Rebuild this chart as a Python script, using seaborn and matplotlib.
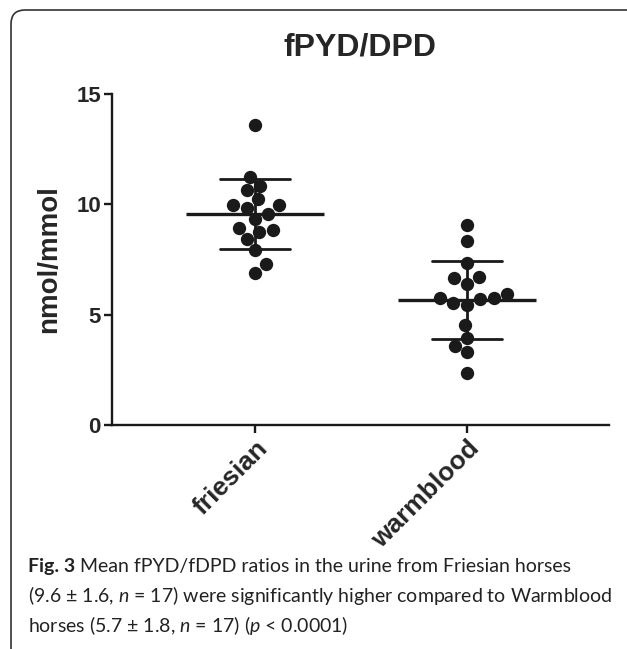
import numpy as np
import pandas as pd
import matplotlib
matplotlib.use("Agg")
import matplotlib.pyplot as plt
from matplotlib.patches import FancyBboxPatch
from matplotlib.transforms import IdentityTransform
import seaborn as sns

# values (nmol/mmol)
groups = ["friesian", "warmblood"]
friesian = [13.6, 11.25, 10.65, 10.85, 9.95, 9.95, 10.25, 9.85, 9.55,
            9.35, 8.85, 8.95, 8.45, 8.75, 7.95, 7.3, 6.9]
warmblood = [9.05, 8.35, 7.35, 6.65, 6.7, 5.95, 5.75, 5.55, 5.45,
             5.7, 5.75, 6.4, 4.55, 3.95, 3.6, 3.3, 2.35]
yticks = [0, 5, 10, 15]

title = "fPYD/DPD"
ylabel = "nmol/mmol"
fig_label = "Fig. 3"
caption = [
    "Mean fPYD/fDPD ratios in the urine from Friesian horses",
    r"(9.6 ± 1.6, $n$ = 17) were significantly higher compared to Warmblood",
    r"horses (5.7 ± 1.8, $n$ = 17) ($p$ < 0.0001)",
]

df = pd.DataFrame({
    "breed": [groups[0]] * len(friesian) + [groups[1]] * len(warmblood),
    "ratio": friesian + warmblood,
})

sns.set_style("ticks")
plt.rcParams["font.family"] = ["Liberation Sans", "DejaVu Sans"]
plt.rcParams["mathtext.fontset"] = "custom"
plt.rcParams["mathtext.rm"] = "Lato"
plt.rcParams["mathtext.it"] = "Lato:italic"
plt.rcParams["mathtext.bf"] = "Lato:bold"

W, H = 627, 649
ink = "#1a1a1a"
fig = plt.figure(figsize=(W / 100, H / 100), dpi=100)
ax = fig.add_axes([112 / W, 1 - 425 / H, (609 - 112) / W, (425 - 94) / H])

# mean +/- SD
sns.pointplot(data=df, x="breed", y="ratio", order=groups, errorbar="sd",
              capsize=0.33, linestyle="none", marker="_", markersize=100,
              markeredgewidth=2.4, color=ink, err_kws={"linewidth": 2.0}, ax=ax)
sns.swarmplot(data=df, x="breed", y="ratio", order=groups, size=9.6,
              color=ink, linewidth=0, zorder=5, ax=ax)

ax.set_xlim(-0.675, 1.67)
ax.set_ylim(0, 15)
ax.set_yticks(yticks)
ax.set_xlabel("")
ax.set_ylabel(ylabel, fontsize=20, fontweight="bold", labelpad=10)
ax.set_title(title, fontsize=23, fontweight="bold", pad=28)

for side in ["top", "right"]:
    ax.spines[side].set_visible(False)
for side in ["left", "bottom"]:
    ax.spines[side].set_linewidth(1.7)
    ax.spines[side].set_color(ink)
ax.tick_params(width=1.7, length=6, color=ink, pad=2)
plt.setp(ax.get_yticklabels(), fontsize=16, fontweight="bold")
plt.setp(ax.get_xticklabels(), fontsize=19, fontweight="bold", rotation=45,
         ha="right", va="top", rotation_mode="anchor")

# rounded frame round the figure panel
frame = FancyBboxPatch((11, -40), 760, H - 10 + 40,
                       boxstyle="round,pad=0,rounding_size=14",
                       transform=IdentityTransform(), fill=False,
                       edgecolor="#333333", linewidth=1.2)
fig.patches.append(frame)

# caption
renderer = fig.canvas.get_renderer()
base = [572, 602, 632]
lab = fig.text(28 / W, 1 - base[0] / H, fig_label, fontsize=14, family="Lato",
               fontweight="bold", color="#222222", va="baseline")
x1 = lab.get_window_extent(renderer=renderer).x1
fig.text((x1 + 5) / W, 1 - base[0] / H, caption[0], fontsize=14, family="Lato",
         color="#222222", va="baseline")
for i in (1, 2):
    fig.text(28 / W, 1 - base[i] / H, caption[i], fontsize=14,
             family="Lato", color="#222222", va="baseline")

fig.savefig("out.png", dpi=100)
